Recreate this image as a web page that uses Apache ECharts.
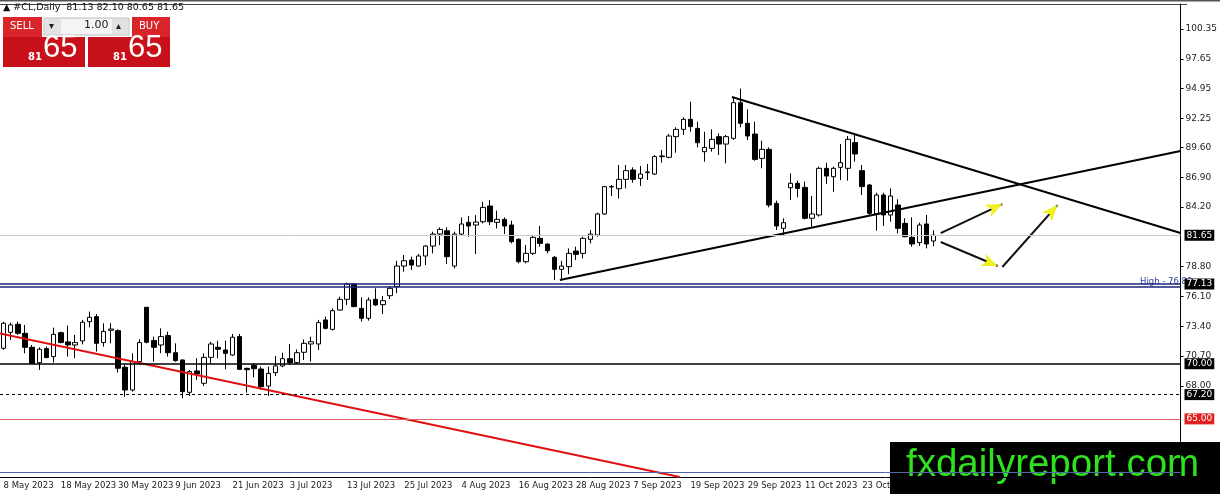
<!DOCTYPE html>
<html><head><meta charset="utf-8">
<script src="https://cdn.jsdelivr.net/npm/echarts@6/dist/echarts.min.js"></script>
<style>html,body{margin:0;padding:0;background:#fff}#c{width:1220px;height:494px}</style>
</head><body><div id="c"></div>
<script>
// OHLC candles: [open, close, low, high]
const candles = [
[71.40,73.67,71.25,73.80],[72.85,73.52,72.16,73.73],[73.58,72.76,72.60,73.82],[72.76,71.49,70.95,73.52],
[71.49,70.04,70.00,71.70],[70.10,71.31,69.44,71.49],[71.37,70.56,70.50,71.55],[70.65,72.67,70.10,73.27],
[72.82,71.92,71.85,72.91],[71.98,71.70,70.65,73.46],[71.70,71.92,70.50,72.61],[72.07,73.76,71.76,73.97],
[73.82,74.21,73.30,74.73],[74.27,71.85,71.10,74.51],[71.92,72.94,71.55,73.67],[73.03,73.15,71.85,73.67],
[73.00,69.59,69.20,73.12],[69.68,67.62,67.00,69.89],[67.62,70.19,67.47,70.95],[70.19,71.92,70.13,72.22],
[75.12,71.95,71.85,75.12],[72.10,71.49,70.19,72.46],[71.70,72.46,70.95,73.21],[72.55,71.00,70.65,72.91],
[71.00,70.28,70.19,71.85],[70.34,67.47,66.87,70.40],[67.41,69.29,67.08,69.44],[69.35,69.07,68.53,70.50],
[68.23,70.58,67.98,70.94],[70.58,71.79,70.04,72.00],[71.49,71.31,70.49,72.09],[71.25,70.94,69.49,72.09],
[70.79,72.40,70.70,72.70],[72.46,69.49,69.43,72.70],[69.58,69.46,67.38,69.65],[69.86,69.55,68.77,70.04],
[69.52,67.92,67.62,69.74],[67.98,69.13,67.08,69.74],[69.19,69.80,68.89,70.70],[69.80,70.46,69.68,71.00],
[70.46,70.10,69.89,71.79],[70.10,71.00,69.98,71.30],[71.04,71.85,70.34,72.21],[71.79,72.00,70.19,72.46],
[71.79,73.73,71.25,73.97],[73.97,73.21,73.12,74.27],[73.12,74.81,73.00,75.02],[74.87,75.84,74.81,76.08],
[75.84,77.23,75.33,77.35],[77.23,75.18,75.12,77.29],[75.02,74.12,73.82,76.02],[74.12,75.78,73.91,76.02],
[75.84,75.33,75.24,76.84],[75.36,75.72,74.51,76.14],[76.17,76.84,75.87,77.05],[77.00,78.86,76.40,79.34],
[78.86,79.34,78.35,79.86],[79.40,78.95,78.50,79.71],[78.86,79.77,78.80,79.95],[79.77,80.67,78.95,80.76],
[80.67,81.76,80.01,81.97],[81.76,82.18,80.76,82.37],[82.06,79.71,79.04,82.37],[78.86,81.76,78.65,81.97],
[81.76,82.67,81.58,83.27],[82.82,82.49,81.52,83.39],[82.58,82.85,79.95,83.48],[82.88,84.18,82.73,84.69],
[84.30,82.88,82.58,84.84],[82.82,83.09,82.27,83.88],[83.09,82.49,81.76,83.27],[82.58,81.07,80.91,82.97],
[81.28,79.25,79.10,81.37],[79.25,80.01,79.10,80.76],[80.01,81.46,79.86,81.58],[81.37,80.91,80.61,82.49],
[80.85,80.25,80.01,80.91],[79.65,78.56,77.59,79.77],[78.56,78.86,77.55,79.34],[78.80,80.01,78.13,80.46],
[80.22,79.92,79.40,80.61],[80.01,81.37,79.55,81.52],[81.28,81.76,80.91,82.12],[81.67,83.58,81.52,83.70],
[83.58,86.06,83.49,86.12],[86.06,86.03,85.21,86.21],[85.87,86.72,84.99,88.02],[86.72,87.51,85.90,88.02],
[87.57,86.72,86.42,87.81],[86.81,87.20,86.12,87.93],[87.33,87.39,86.66,88.11],[87.20,88.78,87.11,88.93],
[88.84,88.78,88.23,89.38],[88.72,90.65,88.62,90.83],[90.59,91.25,89.14,91.44],[91.25,92.16,90.74,92.34],
[92.16,91.50,91.04,93.76],[91.34,90.04,89.62,91.95],[89.23,89.62,88.32,91.04],[89.53,90.35,89.23,91.25],
[90.59,89.92,88.93,90.89],[89.92,90.59,88.17,90.74],[90.44,93.67,90.30,94.18],[93.67,91.80,91.44,94.95],
[91.80,90.65,90.29,93.07],[90.83,88.53,88.41,91.95],[88.62,89.44,87.72,90.23],[89.44,84.39,84.18,89.62],
[84.54,82.49,82.13,84.79],[82.28,82.79,81.67,83.19],[85.96,86.36,84.85,87.26],[86.36,85.90,85.09,86.60],
[85.99,83.19,83.09,86.51],[83.19,83.58,82.43,85.21],[83.49,87.72,83.34,87.87],[87.72,87.02,86.30,88.23],
[86.96,87.72,85.60,87.87],[87.81,88.23,86.66,89.92],[87.72,90.35,86.60,90.65],[90.05,89.02,88.32,90.89],
[87.51,86.06,85.30,88.02],[86.21,83.64,83.40,86.30],[83.58,85.30,82.07,85.51],[85.30,83.49,82.49,85.51],
[83.49,85.21,82.88,85.90],[84.39,82.28,81.82,84.91],[82.73,81.52,81.46,83.19],[81.46,80.86,80.61,83.28],
[80.98,82.58,80.68,82.79],[82.67,80.86,80.46,83.49],[81.13,81.65,80.65,82.10]
];
const startDate = '2023-05-08';
const totalSlots = 165;
const priceTicks = [100.35,97.65,94.95,92.25,89.60,86.90,84.20,78.80,76.10,73.40,70.70,68.00];
// trend lines [index, price]
const redTrend = [[-0.5,72.74],[94.5,59.73]];
const supportTrend = [[77.75,77.60],[164.5,89.29]];
const resistTrend = [[101.8,94.18],[164.5,81.86]];
const arrows = [[[130.98,81.85],[139.6,84.48]],[[130.98,81.04],[138.95,78.86]],[[139.6,78.77],[147.3,84.39]]];
const levels = {last:81.65, highA:77.23, highB:76.96, sup70:70.00, dash:67.20, red:65.00, bottom:60.19};

const months=['Jan','Feb','Mar','Apr','May','Jun','Jul','Aug','Sep','Oct','Nov','Dec'];
const cats=[];
{let d=new Date(startDate+'T12:00:00Z');while(cats.length<totalSlots){const w=d.getUTCDay();if(w>0&&w<6)cats.push(d.getUTCDate()+' '+months[d.getUTCMonth()]+' '+d.getUTCFullYear());d.setUTCDate(d.getUTCDate()+1);}}
const showLab=(i)=>i%8===0&&i<=120;

const chart=echarts.init(document.getElementById('c'));
const F='DejaVu Sans, Liberation Sans, sans-serif';
function box(v,bg,txt){return {yAxis:v,label:{show:true,position:'end',distance:4,formatter:txt||v.toFixed(2),backgroundColor:bg,color:'#fff',padding:[1,2],fontSize:9,fontFamily:F}};}
chart.setOption({
  animation:false,
  grid:{left:-1.9,right:33,top:4,bottom:17},
  xAxis:[{type:'category',data:cats,boundaryGap:true,
    axisLine:{lineStyle:{color:'#000'}},
    axisTick:{interval:(i)=>showLab(i),alignWithLabel:true,lineStyle:{color:'#000'},length:3},
    axisLabel:{interval:(i)=>showLab(i),align:'left',margin:4,color:'#222',fontSize:8.5,fontFamily:F,
      formatter:(v,i)=>i===120?'23 Oct':v},
    splitLine:{show:false}},
   {type:'value',min:-0.5,max:164.5,show:false}],
  yAxis:{type:'value',position:'right',min:59.73,max:102.62,scale:true,
    axisLine:{show:true,onZero:false,lineStyle:{color:'#000'}},
    axisTick:{show:true,customValues:priceTicks,length:3,lineStyle:{color:'#000'}},
    axisLabel:{customValues:priceTicks,formatter:v=>v.toFixed(2),color:'#222',fontSize:9,fontFamily:F,margin:5},
    splitLine:{show:false}},
  graphic:[
    {type:'rect',shape:{x:0,y:0,width:1220,height:1.5},style:{fill:'#555'}},
    {type:'rect',shape:{x:0,y:4,width:1187,height:1},style:{fill:'#444'}},
    {type:'text',left:3,top:3,style:{text:'▲ #CL,Daily  81.13 82.10 80.65 81.65',fontSize:9.5,fontFamily:F,fill:'#111'}},
    {type:'rect',shape:{x:3,y:17,width:39,height:20},style:{fill:'#d9252a'}},
    {type:'text',left:10,top:21,style:{text:'SELL',fontSize:10,fontFamily:F,fill:'#fff'}},
    {type:'rect',shape:{x:44,y:18,width:85,height:17},style:{fill:'#f4f4f4',stroke:'#bbb'}},
    {type:'rect',shape:{x:45,y:19,width:16,height:15},style:{fill:'#e2e2e2'}},
    {type:'rect',shape:{x:112,y:19,width:16,height:15},style:{fill:'#e2e2e2'}},
    {type:'text',left:49,top:21,style:{text:'▾',fontSize:10,fill:'#222'}},
    {type:'text',left:116,top:21,style:{text:'▴',fontSize:10,fill:'#222'}},
    {type:'text',left:84,top:20,style:{text:'1.00',fontSize:11,fontFamily:F,fill:'#222'}},
    {type:'rect',shape:{x:132,y:17,width:38,height:20},style:{fill:'#d9252a'}},
    {type:'text',left:139,top:21,style:{text:'BUY',fontSize:10,fontFamily:F,fill:'#fff'}},
    {type:'rect',shape:{x:3,y:37,width:82,height:30},style:{fill:'#c8101a'}},
    {type:'rect',shape:{x:88,y:37,width:82,height:30},style:{fill:'#c8101a'}},
    {type:'text',left:28,top:52,style:{text:'81',fontSize:10,fontFamily:F,fill:'#fff',fontWeight:'bold'}},
    {type:'text',left:43,top:33,style:{text:'65',fontSize:31,fontFamily:'Liberation Sans',fill:'#fff'}},
    {type:'text',left:113,top:52,style:{text:'81',fontSize:10,fontFamily:F,fill:'#fff',fontWeight:'bold'}},
    {type:'text',left:128,top:33,style:{text:'65',fontSize:31,fontFamily:'Liberation Sans',fill:'#fff'}},
    {type:'text',left:1140,top:277,style:{text:'High - 76.89',fontSize:8.5,fontFamily:F,fill:'#3344aa'}},
    {type:'rect',shape:{x:890,y:442,width:330,height:52},style:{fill:'#000'}},
    {type:'text',left:906,top:446,style:{text:'fxdailyreport.com',fontSize:38.5,fontFamily:'Liberation Sans',fill:'#2fe21f'}}
  ],
  series:[
    {type:'candlestick',data:candles,barWidth:5,
      itemStyle:{color:'#fff',color0:'#000',borderColor:'#000',borderColor0:'#000',borderWidth:1},
      markLine:{silent:true,symbol:'none',animation:false,
        data:[
          {...box(levels.last,'#000'),lineStyle:{color:'#c8c8c8',width:1,type:'solid'}},
          {...box(levels.highA,'#000','77.13'),lineStyle:{color:'#1a237e',width:1.5,type:'solid'}},
          {yAxis:levels.highB,label:{show:false},lineStyle:{color:'#1a237e',width:1.5,type:'solid'}},
          {...box(levels.sup70,'#000'),lineStyle:{color:'#000',width:1.5,type:'solid'}},
          {...box(levels.dash,'#000'),lineStyle:{color:'#000',width:1,type:[3,3]}},
          {...box(levels.red,'#e02020'),lineStyle:{color:'#e06060',width:1.2,type:'solid'}},
          {yAxis:levels.bottom,label:{show:false},lineStyle:{color:'#5566aa',width:1,type:'solid'}}
        ]}},
    {type:'line',xAxisIndex:1,data:redTrend,symbol:'none',lineStyle:{color:'#e01010',width:2},z:3},
    {type:'line',xAxisIndex:1,data:supportTrend,symbol:'none',lineStyle:{color:'#000',width:2},z:3},
    {type:'line',xAxisIndex:1,data:resistTrend,symbol:'none',lineStyle:{color:'#000',width:2},z:3},
    ...arrows.map(a=>({type:'line',xAxisIndex:1,data:a,symbol:'none',lineStyle:{color:'#111',width:2},z:4,
      markLine:{silent:true,symbol:['none','arrow'],symbolSize:[10,16],
        lineStyle:{color:'#f0f020',width:0,type:'solid'},label:{show:false},
        itemStyle:{borderColor:'#000',borderWidth:1},
        data:[[{coord:a[0]},{coord:a[1]}]]}}))
  ]
});
</script></body></html>
